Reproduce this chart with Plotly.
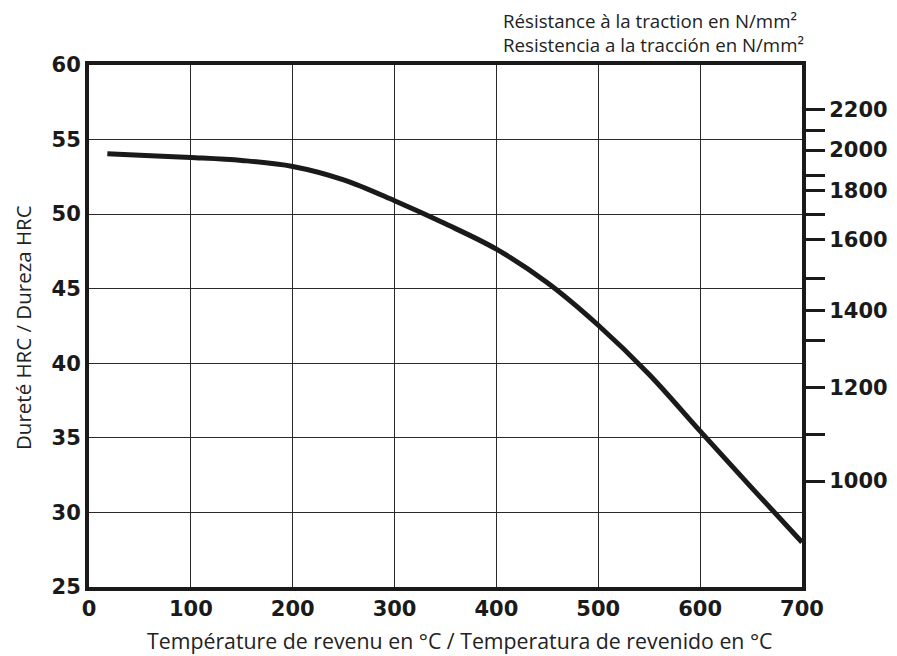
import plotly.graph_objects as go

# Tempering temperature (°C) and hardness (HRC)
temperature_c = [18, 50, 100, 150, 200, 250, 300, 350, 400, 450, 500, 550, 600, 650, 700]
hardness_hrc = [54.05, 53.95, 53.8, 53.6, 53.2, 52.3, 50.9, 49.35, 47.65, 45.4, 42.55, 39.25, 35.45, 31.7, 28.0]

# Left axis ticks
hrc_ticks = [25, 30, 35, 40, 45, 50, 55, 60]
temp_ticks = [0, 100, 200, 300, 400, 500, 600, 700]

# Right axis: tensile strength (N/mm²) and the hardness they correspond to
tensile_values = [2200, 2100, 2000, 1900, 1800, 1700, 1600, 1500, 1400, 1300, 1200, 1100, 1000]
tensile_hrc_pos = [57.0, 55.6, 54.3, 52.6, 51.6, 50.0, 48.3, 45.7, 43.55, 41.5, 38.4, 35.2, 32.1]
tensile_labels = ["2200", "", "2000", "", "1800", "", "1600", "", "1400", "", "1200", "", "1000"]

x_title = "Température de revenu en °C / Temperatura de revenido en °C"
y_title = "Dureté HRC / Dureza HRC"
right_title = "Résistance à la traction en N/mm²<br>Resistencia a la tracción en N/mm²"

fig = go.Figure()
fig.add_trace(go.Scatter(
    x=temperature_c, y=hardness_hrc, mode="lines",
    line=dict(color="#1a1a1a", width=5, shape="spline", smoothing=1.0),
    showlegend=False, hoverinfo="skip",
))
# invisible trace to activate secondary axis
fig.add_trace(go.Scatter(x=[temperature_c[0]], y=[hardness_hrc[0]], yaxis="y2",
                         mode="markers", marker=dict(opacity=0), showlegend=False, hoverinfo="skip"))

tick_font = dict(family="DejaVu Sans", size=21, color="#1a1a1a", weight="bold")

# the page has an 8px body margin, so the figure is 8px smaller and margins compensate
fig.update_layout(
    width=889, height=648,
    margin=dict(l=81, r=95, t=57, b=69, autoexpand=False),
    paper_bgcolor="white", plot_bgcolor="white",
    xaxis=dict(
        range=[0, 700], tickvals=temp_ticks, ticktext=[str(v) for v in temp_ticks],
        showgrid=True, gridcolor="#2a2a2a", gridwidth=1.3,
        showline=True, linecolor="#1a1a1a", linewidth=4, mirror=True,
        ticks="", tickfont=tick_font, zeroline=False,
    ),
    yaxis=dict(
        range=[25, 60], tickvals=hrc_ticks, ticktext=[str(v) for v in hrc_ticks],
        showgrid=True, gridcolor="#2a2a2a", gridwidth=1.3,
        showline=True, linecolor="#1a1a1a", linewidth=4, mirror=True,
        ticks="", tickfont=tick_font, zeroline=False,
    ),
    yaxis2=dict(
        overlaying="y", side="right", range=[25, 60],
        tickvals=tensile_hrc_pos, ticktext=tensile_labels,
        ticks="outside", ticklen=22, tickwidth=3, tickcolor="#1a1a1a",
        showgrid=False, zeroline=False, showline=False,
        tickfont=tick_font,
    ),
    annotations=[
        dict(text=right_title, xref="paper", yref="paper", x=1.0, y=1.0,
             xanchor="right", yanchor="bottom", yshift=6, xshift=4, align="left",
             showarrow=False, font=dict(family="Open Sans", size=18.7, color="#222222")),
        dict(text=x_title, xref="paper", yref="paper", x=0.5, y=0.0,
             xanchor="center", yanchor="middle", xshift=14, yshift=-53,
             showarrow=False, font=dict(family="Open Sans", size=21.3, color="#222222")),
        dict(text=y_title, xref="paper", yref="paper", x=0.0, y=0.5, textangle=-90,
             xanchor="center", yanchor="middle", xshift=-66, yshift=-2,
             showarrow=False, font=dict(family="Open Sans", size=20.5, color="#222222")),
    ],
)

fig.write_html("out.html")
